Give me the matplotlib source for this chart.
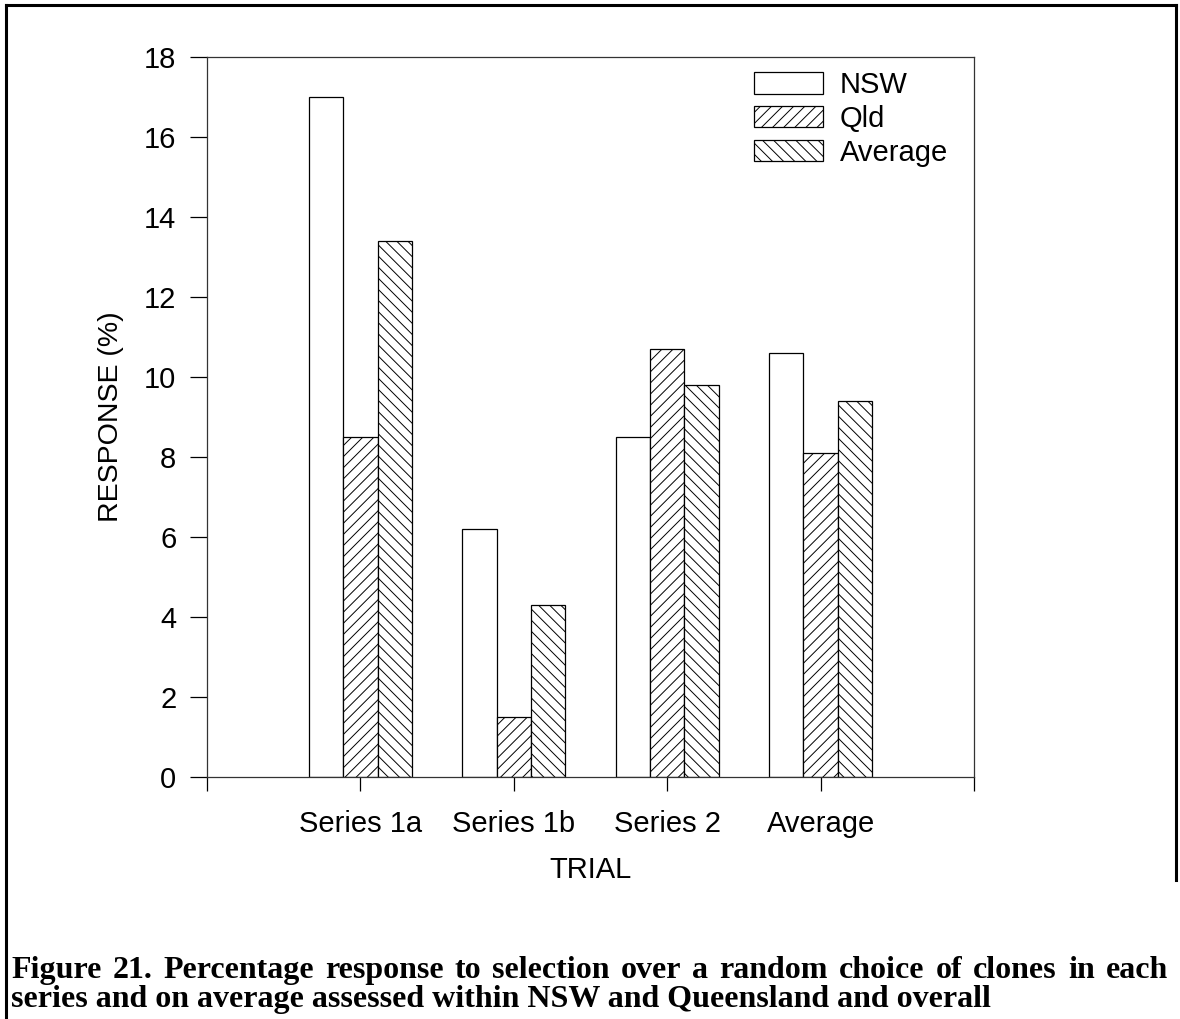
import matplotlib
matplotlib.use("Agg")
import matplotlib.pyplot as plt
from matplotlib.lines import Line2D
import numpy as np

# Response to selection (%) by trial and region
trials = ["Series 1a", "Series 1b", "Series 2", "Average"]
nsw = [17.0, 6.2, 8.5, 10.6]
qld = [8.5, 1.5, 10.7, 8.1]
average = [13.4, 4.3, 9.8, 9.4]
series_names = ["NSW", "Qld", "Average"]
y_ticks = [0, 2, 4, 6, 8, 10, 12, 14, 16, 18]

caption_line1 = "Figure 21.  Percentage response to selection over a random choice of clones in each"
caption_line2 = "series and on average assessed within NSW and Queensland and overall"

plt.rcParams["font.family"] = ["Liberation Sans", "DejaVu Sans"]
plt.rcParams["hatch.linewidth"] = 0.7
plt.rcParams["hatch.color"] = "black"

W, H = 1180, 1019
fig = plt.figure(figsize=(W / 100, H / 100), dpi=100)
ax = fig.add_axes([207 / W, 1 - 777 / H, 767 / W, 720 / H])

x = np.arange(1, len(trials) + 1)
bw = 0.223
hatches = ["", "///", "\\\\\\"]
for i, (vals, name) in enumerate(zip([nsw, qld, average], series_names)):
    ax.bar(x + (i - 1) * bw, vals, width=bw, color="white", edgecolor="black",
           linewidth=0.9, hatch=hatches[i], label=name, zorder=2)

fs = 21
ax.set_xlim(0, 5)
ax.set_ylim(0, 18)
ax.set_yticks(y_ticks)
ax.set_xticks(range(0, 6))
ax.set_xticklabels([""] + trials + [""])
ax.tick_params(axis="y", direction="out", length=12, width=0.9, pad=10, labelsize=fs)
ax.tick_params(axis="x", direction="out", length=10, width=0.9, pad=14, labelsize=fs)
for s in ax.spines.values():
    s.set_linewidth(0.9)
    s.set_color("#333333")

ax.set_xlabel("TRIAL", fontsize=fs, labelpad=13)
ax.set_ylabel("RESPONSE (%)", fontsize=20.5)
ax.yaxis.set_label_coords(-0.108, 0.5)

leg = ax.legend(loc="upper left", bbox_to_anchor=(754 / W, 1 - 71 / H),
                bbox_transform=fig.transFigure, frameon=False, fontsize=fs,
                handlelength=2.35, handleheight=0.75, handletextpad=0.6,
                labelspacing=0.2, borderpad=0, borderaxespad=0)

# outer frame, open at the bottom
frame_kw = dict(color="black", linewidth=2.2, transform=fig.transFigure)
fig.add_artist(Line2D([6 / W, 6 / W], [0, 1 - 5 / H], **frame_kw))
fig.add_artist(Line2D([6 / W, 1176 / W], [1 - 5 / H, 1 - 5 / H], **frame_kw))
fig.add_artist(Line2D([1176 / W, 1176 / W], [1 - 5 / H, 1 - 880 / H], **frame_kw))

# caption, first line justified across the page
cap_kw = dict(family=["Liberation Serif", "DejaVu Serif"], fontweight="bold", fontsize=23)
left, right = 11, 1168
fig.canvas.draw()
renderer = fig.canvas.get_renderer()
words = caption_line1.replace(".  ", ". ").split(" ")
texts = [fig.text(0, 0, w, **cap_kw) for w in words]
widths = [t.get_window_extent(renderer).width for t in texts]
gap = (right - left - sum(widths)) / (len(words) - 1)
xpos = left
for t, w in zip(texts, widths):
    t.set_position((xpos / W, 1 - 978 / H))
    xpos += w + gap
fig.text(left / W, 1 - 1007 / H, caption_line2, **cap_kw)

fig.savefig("out.png", dpi=100)
